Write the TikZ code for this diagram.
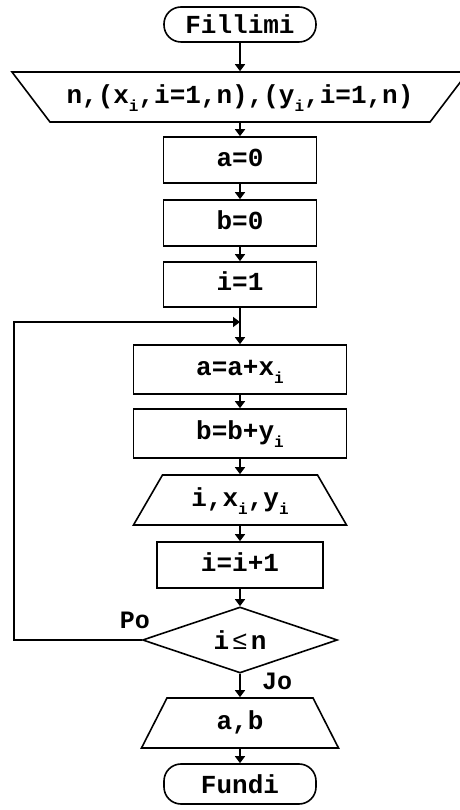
\documentclass[tikz,border=0pt]{standalone}
\usepackage{fontspec}
\setmonofont{Liberation Mono}
\usetikzlibrary{arrows.meta,positioning,shapes.geometric}
\newcommand{\idx}[1]{\raisebox{-8pt}{\fontsize{16}{18}\selectfont #1}}
\tikzset{
  termbox/.style={draw=black, line width=1.6pt, rounded corners=17pt, minimum width=152pt, minimum height=35pt, inner sep=0pt, font=\ttfamily\bfseries\fontsize{26}{30}\selectfont},
  procbox/.style={draw=black, line width=1.6pt, minimum width=153pt, minimum height=46pt, inner sep=0pt, text height=18pt, text depth=5pt, font=\ttfamily\bfseries\fontsize{26}{30}\selectfont},
  iobox/.style={draw=black, line width=1.6pt, trapezium, trapezium stretches body, inner xsep=0pt, inner ysep=13.5pt, text height=18pt, text depth=5pt, font=\ttfamily\bfseries\fontsize{26}{30}\selectfont},
  decbox/.style={draw=black, line width=1.6pt, diamond, aspect=2.95, minimum width=195pt, minimum height=66pt, inner sep=0pt, font=\ttfamily\bfseries\fontsize{26}{30}\selectfont},
  line/.style={-{Triangle[length=7pt,width=10pt]}, draw=black, line width=1.6pt},
  figlabel/.style={inner sep=0pt, font=\ttfamily\bfseries\fontsize{25}{28}\selectfont}
}
\begin{document}
\begin{tikzpicture}[x=1pt,y=1pt]
  \useasboundingbox (0,0) rectangle (459,810);

  \node[termbox] (start) at (240,785.5) {Fillimi};
  \node[iobox, shape border rotate=180, trapezium left angle=52.8, trapezium right angle=52.8, minimum width=456pt] (input) at (240,713) {n,(x\idx{i},i=1,n),(y\idx{i},i=1,n)};
  \node[procbox] (seta) at (240,650) {a=0};
  \node[procbox] (setb) at (240,587) {b=0};
  \node[procbox, minimum height=45pt] (seti) at (240,525.5) {i=1};
  \coordinate (join) at (240,488);

  \node[procbox, minimum width=213pt, minimum height=49pt] (suma) at (240,440.5) {a=a+x\idx{i}};
  \node[procbox, minimum width=213pt, minimum height=49pt] (sumb) at (240,376.5) {b=b+y\idx{i}};
  \node[iobox, trapezium left angle=59.9, trapezium right angle=59.9, minimum width=213pt] (printi) at (240,310) {i,x\idx{i},y\idx{i}};
  \node[procbox, minimum width=166pt] (inci) at (240,245) {i=i+1};
  \node[decbox] (test) at (240,170) {i\hspace{3pt}{\mdseries ≤}\hspace{3pt}n};
  \coordinate (loopleft) at (14,170);

  \node[iobox, trapezium left angle=63, trapezium right angle=63, minimum width=197pt] (printab) at (240,87) {a,b};
  \node[termbox, minimum height=40pt] (stop) at (240,26) {Fundi};

  \node[figlabel] (po) at (135,190) {Po};
  \node[figlabel] (jo) at (277,129) {Jo};

  \draw[line] (start.south) -- (input.north);
  \draw[line] (input.south) -- (seta.north);
  \draw[line] (seta.south) -- (setb.north);
  \draw[line] (setb.south) -- (seti.north);
  \draw[line] (seti.south) -- (suma.north);
  \draw[line] (suma.south) -- (sumb.north);
  \draw[line] (sumb.south) -- (printi.north);
  \draw[line] (printi.south) -- (inci.north);
  \draw[line] (inci.south) -- (test.north);
  \draw[line] (test.west) -- (loopleft) |- (join);
  \draw[line] (test.south) -- (printab.north);
  \draw[line] (printab.south) -- (stop.north);
\end{tikzpicture}
\end{document}
